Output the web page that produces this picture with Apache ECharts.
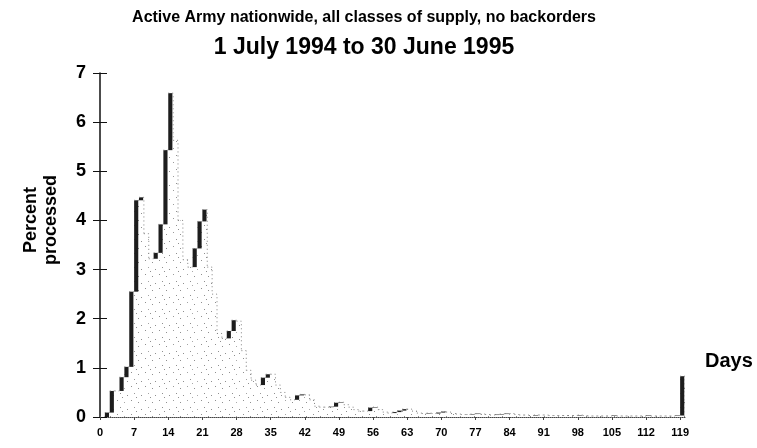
<!DOCTYPE html>
<html lang="en">
<head>
    <meta charset="utf-8">
    <title>Percent processed by days</title>
    <script type="text/javascript" src="https://cdn.jsdelivr.net/npm/echarts@6.0.0/dist/echarts.min.js"></script>
    <style>
        body { margin: 0; background: #fff; }
    </style>
</head>
<body>
<div id="main" style="width: 757px;height:448px;"></div>
<script>
    // days 0..119, percent of requisitions processed on each day
    var days = [];
    for (var i = 0; i < 120; i++) days.push(i);
    var percent = [
        0, 0.09, 0.53, 0.53, 0.81, 1.02, 2.55, 4.41, 4.47, 3.73,
        3.22, 3.34, 3.92, 5.43, 6.59, 5.63, 4.0, 3.2, 3.05, 3.43,
        3.98, 4.22, 3.05, 2.5, 1.7, 1.6, 1.75, 1.97, 1.95, 1.35,
        0.95, 0.75, 0.65, 0.8, 0.87, 0.87, 0.65, 0.5, 0.4, 0.35,
        0.44, 0.46, 0.45, 0.35, 0.22, 0.2, 0.2, 0.21, 0.29, 0.3,
        0.25, 0.2, 0.15, 0.12, 0.12, 0.19, 0.2, 0.15, 0.1, 0.08,
        0.1, 0.13, 0.16, 0.16, 0.12, 0.08, 0.07, 0.08, 0.07, 0.09,
        0.11, 0.1, 0.07, 0.06, 0.05, 0.05, 0.06, 0.07, 0.06, 0.05,
        0.04, 0.05, 0.06, 0.07, 0.07, 0.05, 0.04, 0.04, 0.03, 0.04,
        0.04, 0.04, 0.03, 0.03, 0.03, 0.03, 0.03, 0.03, 0.04, 0.03,
        0.02, 0.02, 0.02, 0.02, 0.02, 0.03, 0.02, 0.02, 0.02, 0.02,
        0.02, 0.02, 0.03, 0.02, 0.02, 0.02, 0.02, 0.02, 0.03, 0.83
    ];
    var xTicks = [0, 7, 14, 21, 28, 35, 42, 49, 56, 63, 70, 77, 84, 91, 98, 105, 112, 119];

    // sparse stipple fill like the scanned print
    var stipple = document.createElement('canvas');
    stipple.width = 14;
    stipple.height = 14;
    var sctx = stipple.getContext('2d');
    sctx.fillStyle = '#fff';
    sctx.fillRect(0, 0, 14, 14);
    sctx.fillStyle = '#8f8f8f';
    [[1, 3], [8, 1], [5, 8], [12, 10], [10, 5]].forEach(function (p) {
        sctx.fillRect(p[0], p[1], 1, 1);
    });

    var barData = days.map(function (d, i) {
        var prev = i > 0 ? percent[i - 1] : 0;
        var next = i < percent.length - 1 ? percent[i + 1] : 0;
        return [d, percent[i], prev, next];
    });

    function renderBar(params, api) {
        var d = api.value(0), v = api.value(1), prev = api.value(2), next = api.value(3);
        var base = api.coord([d, 0]);
        var top = api.coord([d + 1, v]);
        var w = top[0] - base[0];
        var kids = [{
            type: 'rect',
            shape: {x: base[0], y: top[1], width: w, height: base[1] - top[1]},
            style: {fill: {image: stipple, repeat: 'repeat'}}
        }];
        if (v > prev) {
            var low = api.coord([d, prev]);
            kids.push({
                type: 'rect',
                shape: {x: base[0], y: top[1], width: w * 0.85, height: low[1] - top[1]},
                style: {fill: '#1d1d1d'}
            });
        }
        var edge = api.coord([d + 1, Math.min(v, next)]);
        kids.push({
            type: 'polyline',
            shape: {points: [[base[0], top[1]], [top[0], top[1]], [top[0], edge[1]]]},
            style: {stroke: '#808080', lineWidth: 1, lineDash: [1, 3], fill: null}
        });
        return {type: 'group', children: kids};
    }

    var myChart = echarts.init(document.getElementById('main'));
    var font = '"Liberation Sans", Arial, sans-serif';
    var option = {
        animation: false,
        grid: {left: 100, right: 72, top: 73, bottom: 31},
        graphic: [
            {type: 'text', x: 364, y: 10, style: {
                text: 'Active Army nationwide, all classes of supply, no backorders',
                font: 'bold 16px ' + font, fill: '#000', align: 'center'
            }},
            {type: 'text', x: 364, y: 36, style: {
                text: '1 July 1994 to 30 June 1995',
                font: 'bold 23px ' + font, fill: '#000', align: 'center'
            }},
            {type: 'text', x: 21, y: 220, rotation: Math.PI / 2, style: {
                text: 'Percent\nprocessed', lineHeight: 20,
                font: 'bold 18px ' + font, fill: '#000', align: 'center'
            }},
            {type: 'text', x: 705, y: 351, style: {
                text: 'Days', font: 'bold 20px ' + font, fill: '#000'
            }}
        ],
        xAxis: {
            type: 'value',
            min: 0,
            max: 120,
            axisLine: {lineStyle: {color: '#444', type: 'dotted', width: 1}},
            axisTick: {show: true, length: 3, customValues: xTicks, lineStyle: {color: '#444'}},
            axisLabel: {customValues: xTicks, color: '#000', fontWeight: 'bold', fontSize: 11,
                fontFamily: font, margin: 10},
            splitLine: {show: false}
        },
        yAxis: [{
            type: 'value',
            min: 0,
            max: 7,
            interval: 1,
            axisLine: {show: true, lineStyle: {color: '#111', width: 1.5}},
            axisTick: {show: true, length: 7, lineStyle: {color: '#111'}},
            axisLabel: {color: '#000', fontWeight: 'bold', fontSize: 18, fontFamily: font, margin: 14},
            splitLine: {show: false}
        }, {
            type: 'value',
            min: 0,
            max: 7,
            interval: 1,
            position: 'left',
            axisLine: {show: false},
            axisTick: {show: true, inside: true, length: 7, lineStyle: {color: '#111'}},
            axisLabel: {show: false},
            splitLine: {show: false}
        }],
        series: [{
            type: 'custom',
            renderItem: renderBar,
            encode: {x: 0, y: 1},
            data: barData,
            clip: true
        }]
    };
    myChart.setOption(option);
</script>
</body>
</html>
